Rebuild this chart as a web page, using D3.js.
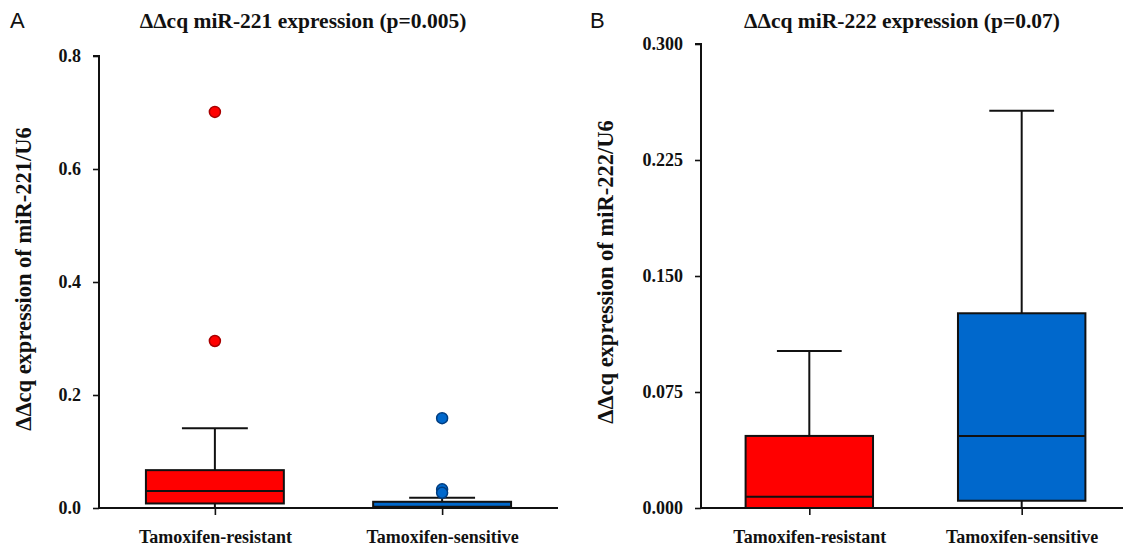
<!DOCTYPE html>
<html><head><meta charset="utf-8">
<script src="https://cdn.jsdelivr.net/npm/d3@7"></script>
<style>
body{margin:0;background:#fff;}
svg{display:block;}
</style></head>
<body>
<svg id="chart" width="1123" height="547"></svg>
<script>
// ---- data ----
const categories = ["Tamoxifen-resistant", "Tamoxifen-sensitive"];
const colors = ["#ff0000", "#0068cc"];
const outlineColors = ["#a80000", "#003d80"];

// Panel A: miR-221
const a_whiskerLow  = [0.000, 0.000];
const a_q1          = [0.008, 0.0005];
const a_median      = [0.030, 0.002];
const a_q3          = [0.067, 0.011];
const a_whiskerHigh = [0.141, 0.018];
const a_outliers    = [[0.701, 0.2956], [0.159, 0.033, 0.027]];
const a_ticks       = [0, 0.2, 0.4, 0.6, 0.8];

// Panel B: miR-222
const b_whiskerLow  = [0.000, 0.000];
const b_q1          = [0.000, 0.0047];
const b_median      = [0.0073, 0.0466];
const b_q3          = [0.0466, 0.1259];
const b_whiskerHigh = [0.1015, 0.2569];
const b_outliers    = [[], []];
const b_ticks       = [0, 0.075, 0.150, 0.225, 0.300];

const SERIF = "'Liberation Serif','Times New Roman',Times,serif";
const svg = d3.select("#chart");

function serif(sel, size) {
  return sel.style("font-family", SERIF).style("font-weight", "bold").style("font-size", size).attr("fill", "#111");
}

function panel(opt) {
  const g = svg.append("g");
  const x = d3.scalePoint().domain(categories).range([opt.x0, opt.x1]).padding(opt.pad);
  const y = d3.scaleLinear().domain([0, opt.ymax]).range([opt.yb, opt.yt]);
  const step = x.step();
  const boxW = step * opt.boxFrac, capW = step * opt.capFrac;

  // axes
  const ya = g.append("g").attr("transform", `translate(${opt.x0},0)`)
    .call(d3.axisLeft(y).tickValues(opt.ticks).tickFormat(d3.format(opt.fmt)).tickSize(6).tickPadding(opt.tpad));
  const xa = g.append("g").attr("transform", `translate(0,${opt.yb})`)
    .call(d3.axisBottom(x).tickSize(7).tickPadding(15));
  [ya, xa].forEach(a => {
    a.select(".domain").attr("stroke", "#111").attr("stroke-width", 2);
    a.selectAll(".tick line").attr("stroke", "#111").attr("stroke-width", 1.6);
    serif(a.selectAll("text"), "18px");
  });
  ya.select(".domain").attr("d", `M-6,${opt.yt}H0V${opt.yb}`);
  xa.select(".domain").attr("d", `M${opt.x0},0H${opt.x1}`);

  // boxes
  categories.forEach((c, i) => {
    const cx = x(c);
    const bg = g.append("g");
    const ln = (x1, x2, y1, y2) => bg.append("line").attr("x1", x1).attr("x2", x2).attr("y1", y1).attr("y2", y2)
      .attr("stroke", "#111").attr("stroke-width", 2);
    ln(cx, cx, y(opt.q3[i]), y(opt.hi[i]));
    ln(cx - capW / 2, cx + capW / 2, y(opt.hi[i]), y(opt.hi[i]));
    ln(cx, cx, y(opt.q1[i]), y(opt.lo[i]));
    ln(cx - capW / 2, cx + capW / 2, y(opt.lo[i]), y(opt.lo[i]));
    bg.append("rect").attr("x", cx - boxW / 2).attr("width", boxW)
      .attr("y", y(opt.q3[i])).attr("height", Math.max(0, y(opt.q1[i]) - y(opt.q3[i])))
      .attr("fill", colors[i]).attr("stroke", "#111").attr("stroke-width", 2);
    ln(cx - boxW / 2, cx + boxW / 2, y(opt.med[i]), y(opt.med[i]));
    bg.selectAll("circle").data(opt.out[i]).join("circle")
      .attr("cx", cx).attr("cy", d => y(d)).attr("r", 5.5)
      .attr("fill", colors[i]).attr("stroke", outlineColors[i]).attr("stroke-width", 1.5);
  });

  // title, label, panel letter
  serif(g.append("text").attr("x", opt.titleX).attr("y", 28).attr("text-anchor", "middle"), "21.5px").text(opt.title);
  serif(g.append("text").attr("transform", `translate(${opt.labelX},${opt.labelY}) rotate(-90)`)
    .attr("text-anchor", "middle"), "22.5px").text(opt.ylabel);
  g.append("text").attr("x", opt.letterX).attr("y", 28)
    .style("font-family", "'Liberation Sans',Arial,sans-serif").style("font-size", "22px").attr("fill", "#111").text(opt.letter);
}

panel({
  x0: 99, x1: 558, pad: 0.51, yb: 508, yt: 56, ymax: 0.8, ticks: a_ticks, fmt: ".1f", tpad: 12,
  boxFrac: 0.607, capFrac: 0.29,
  lo: a_whiskerLow, q1: a_q1, med: a_median, q3: a_q3, hi: a_whiskerHigh, out: a_outliers,
  title: "ΔΔcq miR-221 expression (p=0.005)", titleX: 303,
  ylabel: "ΔΔcq expression of miR-221/U6", labelX: 31, labelY: 279,
  letter: "A", letterX: 10
});
panel({
  x0: 701, x1: 1130, pad: 0.51, yb: 508, yt: 44, ymax: 0.3, ticks: b_ticks, fmt: ".3f", tpad: 12,
  boxFrac: 0.60, capFrac: 0.305,
  lo: b_whiskerLow, q1: b_q1, med: b_median, q3: b_q3, hi: b_whiskerHigh, out: b_outliers,
  title: "ΔΔcq miR-222 expression (p=0.07)", titleX: 902,
  ylabel: "ΔΔcq expression of miR-222/U6", labelX: 613, labelY: 272,
  letter: "B", letterX: 590
});
</script>
</body></html>
